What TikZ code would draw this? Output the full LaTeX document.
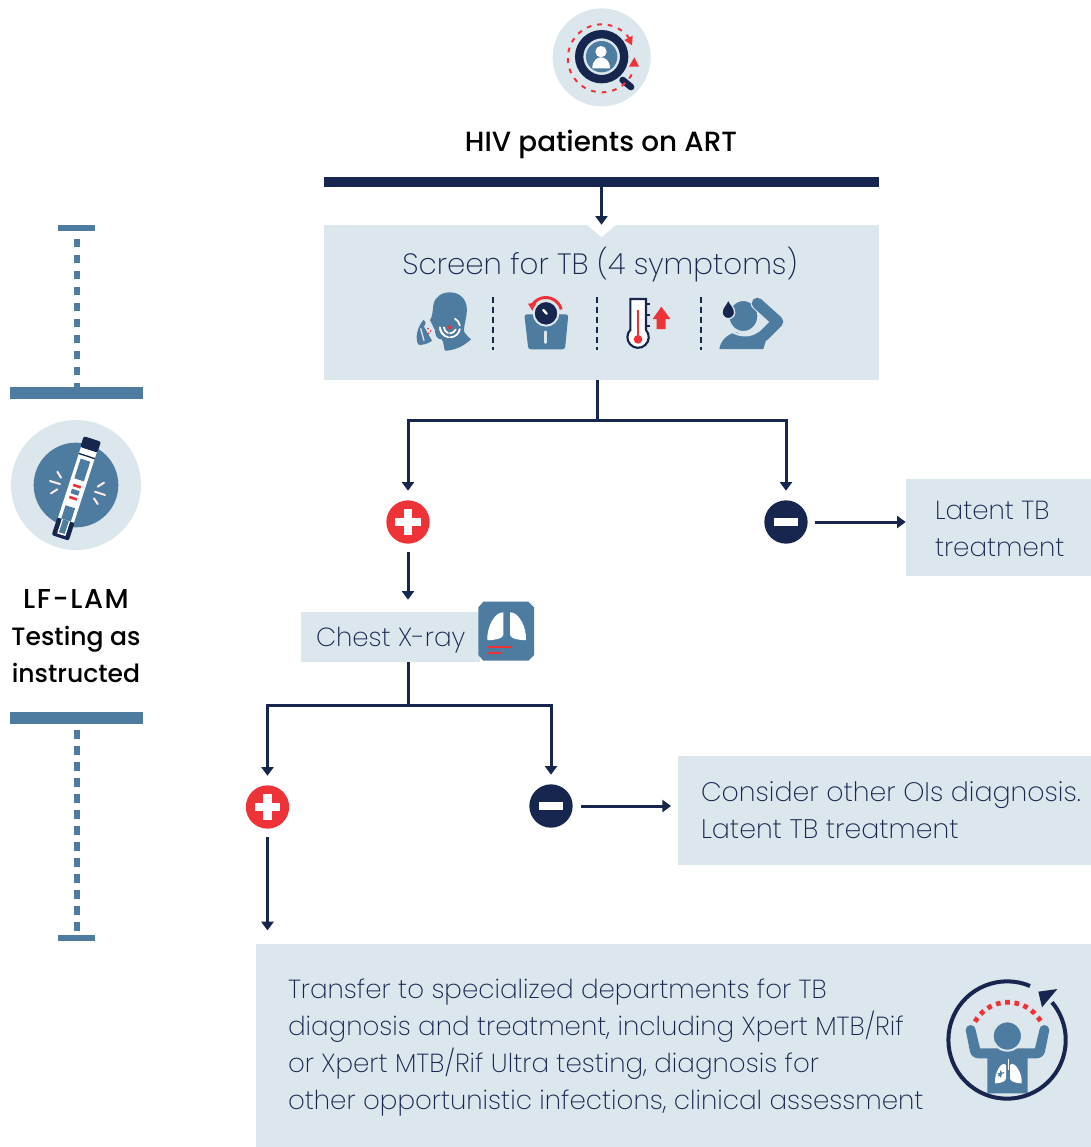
\documentclass[tikz,border=0pt]{standalone}
\usepackage{fontspec}
\setmainfont{Poppins ExtraLight}
\newfontfamily\boldf{Poppins Medium}
\usetikzlibrary{arrows.meta,calc}
\definecolor{lite}{HTML}{DCE6ED}
\definecolor{mid}{HTML}{4E7BA0}
\definecolor{navy}{HTML}{16264F}
\definecolor{redc}{HTML}{EE3338}
\tikzset{
 box/.style={fill=lite,inner sep=0pt},
 boxtext/.style={anchor=west,inner sep=0pt,align=left,font=\fontsize{19.6}{27.75}\selectfont,text=navy},
 rule/.style={fill=navy,inner sep=0pt,minimum height=7.5pt},
 lrule/.style={fill=mid,inner sep=0pt,minimum width=99.75pt,minimum height=9pt},
 lcap/.style={fill=mid,inner sep=0pt,minimum width=27.75pt,minimum height=4.5pt},
 ldots/.style={draw=mid,line width=4.5pt,dash pattern=on 6.25pt off 5.75pt},
 conn/.style={draw=navy,line width=2.25pt},
 arr/.style={conn,-{Triangle[width=9pt,length=6.5pt]}},
 plusn/.style={circle,fill=redc,inner sep=0pt,minimum size=32.5pt},
 minusn/.style={circle,fill=navy,inner sep=0pt,minimum size=32.5pt},
 sign/.style={draw=white,line width=6.3pt},
 sepline/.style={draw=navy,line width=1.5pt,dash pattern=on 5pt off 2.5pt},
 zoomed/.style={x=.25pt,y=.25pt},
}
\begin{document}
\begin{tikzpicture}[x=.75pt,y=.75pt,yscale=-1]
\useasboundingbox (0,0) rectangle (1091,1147);

% top icon
\begin{scope}[shift={(530,0)},zoomed]
 \fill[lite] (215,172) circle (147);
 \draw[navy,line width=5pt,line cap=round] (278,240)--(303,261);
 \draw[navy,line width=6.25pt,fill=lite] (215,170) circle (67.5);
 \fill[mid] (215,170) circle (47);
 \fill[white] (213,155) circle (17);
 \fill[white] (187,205) .. controls (187,178) and (205,172) .. (213,172) .. controls (221,172) and (240,178) .. (240,205) -- cycle;
 \draw[redc,line width=1.5pt,dash pattern=on 3.5pt off 4.5pt] (298,115) arc[start angle=-36,end angle=-335,radius=102];
 \fill[redc] (283,120)--(308,107)--(306,136)--cycle;
 \fill[redc] (297,200)--(313,172)--(327,200)--cycle;
\end{scope}

\node[font=\boldf\fontsize{20.85}{24}\selectfont,text=black] (title) at (601,144.5) {HIV patients on ART};
\node[rule,minimum width=416.25pt] (bar) at (601.5,182) {};
\node[box,minimum width=416.25pt,minimum height=116.25pt] (screen) at (601.5,302.5) {};
\fill[white] (587,225)--(601.5,237)--(616,225)--cycle;
\node[font=\fontsize{22}{24}\selectfont,text=navy] (screentext) at (600,265) {Screen for TB (4 symptoms)};

% symptom icons
\begin{scope}[shift={(400,280)},zoomed]
 % cough
 \fill[mid] (150,37) .. controls (185,37) and (205,65) .. (200,100) .. controls (197,125) and (190,145) .. (192,155) .. controls (197,165) and (207,172) .. (213,178) .. controls (190,200) and (160,212) .. (135,212) .. controls (130,200) and (132,185) .. (125,178) .. controls (110,178) and (105,165) .. (105,150) -- (95,130) -- (90,120) .. controls (97,110) and (98,95) .. (100,75) .. controls (105,50) and (125,37) .. (150,37) -- cycle;
 \fill[mid] (70,120) .. controls (80,125) and (78,135) .. (72,140) -- (96,182) .. controls (85,192) and (65,196) .. (55,194) .. controls (45,175) and (50,145) .. (70,120) -- cycle;
 \draw[lite,line width=1pt] (62,145)--(72,182);
 \fill[redc] (150,142) circle (6);
 \draw[white,line width=1.3pt,line cap=round] (132,142) arc[start angle=180,end angle=110,radius=18];
 \draw[white,line width=1.3pt,line cap=round] (150,160) arc[start angle=90,end angle=20,radius=18];
 \draw[white,line width=1.3pt,line cap=round] (120,142) arc[start angle=180,end angle=100,radius=30];
 \draw[white,line width=1.3pt,line cap=round] (150,172) arc[start angle=90,end angle=10,radius=30];
 \draw[white,line width=1.3pt,line cap=round] (165,116) arc[start angle=-60,end angle=-10,radius=30];
 \draw[white,line width=1.3pt,line cap=round] (135,168) arc[start angle=120,end angle=170,radius=30];
 \fill[redc] (84,146) circle (3) (92,153) circle (3) (86,160) circle (3);
 % separators
 \draw[sepline] (278,50)--(278,210);
 \draw[sepline] (590,50)--(590,210);
 \draw[sepline] (902,50)--(902,210);
 % scale
 \fill[mid,rounded corners=2pt] (373,103)--(505,103)--(495,208)--(385,208)--cycle;
 \draw[redc,line width=2.2pt] (395,78) arc[start angle=-152,end angle=-15,radius=48];
 \fill[redc] (384,71)--(410,68)--(397,92)--cycle;
 \draw[lite,line width=1.5pt,fill=navy] (438,100) circle (37);
 \draw[white,line width=1.8pt,line cap=round] (430,90)--(440,101);
 \draw[lite,line width=1.8pt,line cap=round] (437,155)--(437,188);
 % thermometer
 \draw[navy,line width=1.6pt,fill=white] (691,57)--(738,57)--(738,150) arc[start angle=-42,end angle=222,radius=32] --(691,150)--cycle;
 \fill[redc] (714,178) circle (13);
 \draw[redc,line width=2pt] (714,90)--(714,178);
 \draw[navy,line width=1.6pt] (736,72)--(750,72) (736,105)--(750,105) (736,139)--(750,139);
 \fill[redc] (784,80)--(811,117)--(797,117)--(797,147)--(770,147)--(770,117)--(758,117)--cycle;
 % sweat
 \fill[mid] (958,207) .. controls (962,180) and (985,160) .. (1010,157) .. controls (1030,170) and (1055,168) .. (1075,155) -- (1105,158) -- (1090,207) -- cycle;
 \draw[lite,line width=1.5pt,fill=mid] (1030,108) ellipse (45 and 48);
 \draw[lite,line width=1.5pt] (1000,158) .. controls (1030,172) and (1060,168) .. (1080,148);
 \draw[lite,line width=10pt,line cap=round] (1072,70)--(1120,113);
 \draw[mid,line width=8.5pt,line join=round,line cap=round] (1072,70)--(1133,125)--(1090,168);
 \draw[lite,line width=1pt,fill=navy] (985,58) .. controls (990,72) and (1004,82) .. (1004,97) arc[start angle=0,end angle=180,radius=19] .. controls (966,82) and (980,72) .. (985,58) -- cycle;
\end{scope}

% connectors first branch
\coordinate (j1) at (597,420);
\node[plusn] (p1) at (408,522) {};
\node[minusn] (m1) at (786,522) {};
\node[box,minimum width=138.75pt,minimum height=72.75pt] (latent) at (998.5,527.5) {};
\node[boxtext] (latenttext) at ([shift={(29,1.2)}]latent.west) {Latent TB\\treatment};
\draw[arr] (bar.south) -- (screen.north);
\draw[conn] (screen.south -| j1) -- (j1);
\draw[arr,shorten >=7pt] (j1) -| (p1.north);
\draw[arr,shorten >=7pt] (j1) -| (m1.north);
\draw[arr,shorten <=5pt] (m1.east) -- (m1.east -| latent.west);
\draw[sign] ([xshift=-9.5pt]p1.center)--([xshift=9.5pt]p1.center) ([yshift=-9.5pt]p1.center)--([yshift=9.5pt]p1.center);
\draw[sign] ([xshift=-9pt]m1.center)--([xshift=9pt]m1.center);

% chest
\node[box,minimum width=134.25pt,minimum height=37.5pt] (chest) at (390.5,637) {};
\node[boxtext] (chesttext) at ([shift={(15,3)}]chest.west) {Chest X-ray};
\begin{scope}[shift={(470,595)},zoomed]
 \fill[mid] (40,20)--(175,20)--(192,37)--(192,180)--(175,197)--(40,197)--(25,180)--(25,37)--cycle;
 \fill[white] (100,52) .. controls (75,50) and (50,95) .. (52,135) .. controls (70,137) and (100,130) .. (100,120) -- cycle;
 \fill[white] (120,52) .. controls (145,50) and (170,95) .. (168,135) .. controls (150,137) and (120,130) .. (120,120) -- cycle;
 \draw[redc,line width=1.7pt] (55,157)--(125,157) (55,174)--(95,174);
\end{scope}
\draw[arr,shorten <=6pt,shorten >=9pt] (p1.south) -- (p1.south |- chest.north);
\coordinate (j2) at (408,705);
\node[plusn] (p2) at (267.5,807) {};
\node[minusn] (m2) at (551,806) {};
\node[box,minimum width=309.75pt,minimum height=81.75pt] (other) at (884.5,810.5) {};
\node[boxtext,font=\fontsize{20.1}{27.75}\selectfont] (othertext) at ([shift={(23,0)}]other.west) {Consider other OIs diagnosis.\\Latent TB treatment};
\node[box,minimum width=626.25pt,minimum height=152.25pt] (transfer) at (673.5,1045.5) {};
\node[boxtext] (transfertext) at ([shift={(32,2.5)}]transfer.west) {Transfer to specialized departments for TB\\diagnosis and treatment, including Xpert MTB/Rif\\or Xpert MTB/Rif Ultra testing, diagnosis for\\other opportunistic infections, clinical assessment};
\draw[conn] (chest.south -| j2) -- (j2);
\draw[arr,shorten >=7pt] (j2) -| (p2.north);
\draw[arr,shorten >=7pt] (j2) -| (m2.north);
\draw[arr,shorten <=6pt,shorten >=5pt] (m2.east) -- (m2.east -| other.west);
\draw[arr,shorten <=6pt,shorten >=10pt] (p2.south) -- (p2.south |- transfer.north);
\draw[sign] ([xshift=-9.5pt]p2.center)--([xshift=9.5pt]p2.center) ([yshift=-9.5pt]p2.center)--([yshift=9.5pt]p2.center);
\draw[sign] ([xshift=-9pt]m2.center)--([xshift=9pt]m2.center);

% person icon
\begin{scope}[shift={(930,970)},zoomed]
 \fill[mid] (107,180) arc[start angle=180,end angle=360,radius=15] -- (150,235) -- (315,235) -- (328,180) arc[start angle=180,end angle=360,radius=15] -- (345,245) .. controls (342,258) and (330,265) .. (320,265) -- (293,265) -- (293,370) -- (172,370) -- (172,265) -- (145,265) .. controls (135,265) and (123,258) .. (120,245) -- cycle;
 \draw[lite,line width=1.5pt,fill=mid] (232,198) circle (44);
 \fill[white] (228,285) .. controls (215,270) and (192,310) .. (195,340) .. controls (210,340) and (228,335) .. (228,325) -- cycle;
 \fill[white] (240,285) .. controls (253,270) and (278,310) .. (275,340) .. controls (260,340) and (240,335) .. (240,325) -- cycle;
 \draw[white,line width=1pt] (235,266)--(235,300);
 \draw[mid,line width=.9pt] (203,312)--(222,308) (212,302)--(212,322) (205,318)--(215,312);
 \draw[redc,line width=3.6pt,dash pattern=on 3.5pt off 3.5pt] (135,155) arc[start angle=-151,end angle=-29,radius=113];
 \draw[navy,line width=3pt] (300,48) arc[start angle=-67,end angle=-400,radius=176];
 \fill[navy] (325,65)--(382,57)--(336,112)--cycle;
\end{scope}

% left side
\node[lcap] (cap1) at (76.5,228) {};
\node[lrule] (lb1) at (76.5,393) {};
\draw[ldots,dash phase=6.25pt] (cap1.south) -- (lb1.north);
\node[lrule] (lb2) at (76.5,718) {};
\node[lcap] (cap2) at (76.5,938) {};
\draw[ldots] (lb2.south) ++(0,6) -- (cap2.north);
\begin{scope}[shift={(0,410)},zoomed]
 \fill[lite] (228,225) circle (195);
 \fill[mid] (228,225) circle (127);
 \draw[white!90!redc,line width=1.5pt,line cap=round] (172,185)--(183,203) (150,213)--(180,222) (153,250)--(172,238) (312,218)--(293,230) (285,245)--(315,255) (282,265)--(293,282);
 \begin{scope}[shift={(228,238)},rotate=18]
  \fill[navy,rounded corners=1.5pt] (-27,97)--(27,97)--(27,153)--(-27,153)--cycle;
  \fill[white] (-25,-125) rectangle (25,97);
  \fill[navy,rounded corners=1.5pt] (-27,-159) rectangle (27,-125);
  \fill[navy] (-25,-107) rectangle (25,-103);
  \fill[mid] (-15,-92) rectangle (15,-30);
  \fill[mid] (-15,55) rectangle (15,97);
  \fill[white] (-13,97) rectangle (13,143);
  \fill[mid] (-9,97) rectangle (9,138);
  \fill[redc] (-12,-14) rectangle (12,-6);
  \fill[redc] (-12,24) rectangle (12,32);
  \fill[mid] (-12,2) rectangle (12,16);
 \end{scope}
\end{scope}
\node[font=\boldf\fontsize{18.8}{27.5}\selectfont,text=black,align=center] (lf) at (76,636) {\fontsize{20.5}{27.5}\selectfont\addfontfeature{LetterSpace=6}LF-LAM\\Testing as\\instructed};
\end{tikzpicture}
\end{document}
